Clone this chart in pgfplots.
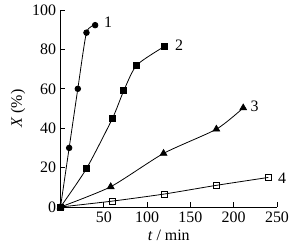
\documentclass[border=0pt]{standalone}
\usepackage{pgfplots}
\pgfplotsset{compat=1.18}
\usepackage{fontspec}
\setmainfont{Liberation Serif}
\begin{document}
\begin{tikzpicture}
\begin{axis}[
  scale only axis, width=216.5bp, height=197bp,
  xmin=0, xmax=250, ymin=0, ymax=100,
  axis x line=bottom, axis y line=left,
  axis line style={-, line width=0.8pt},
  every tick/.style={black, line width=0.8pt},
  tick align=inside, major tick length=5bp,
  xtick={50,100,150,200,250}, ytick={0,20,40,60,80,100},
  minor tick num=0,
  font=\fontsize{16}{18}\selectfont,
  /pgf/number format/assume math mode=true,
  xlabel={\textit{t} / min}, ylabel={\textit{X} (\%)},
  xlabel style={at={(axis description cs:0.5,0)}, anchor=center, yshift=-28bp},
  ylabel style={at={(axis description cs:-0.196,0.5)}, anchor=center, rotate=0},
  yticklabel style={xshift=-1bp},
  xticklabel style={yshift=-1bp},
  clip=false,
]
\addplot[black, line width=0.8pt, smooth, tension=0.4, mark=*, mark size=2.8bp] coordinates {(0,0) (10,30) (20,60) (30,88.5) (40,92.3)};
\addplot[black, line width=0.8pt, smooth, tension=0.4, mark=square*, mark size=3bp] coordinates {(0,0) (30,19.5) (60,45) (73,59) (88,72) (120,81.5)};
\addplot[black, line width=0.8pt, smooth, tension=0.4, mark=triangle*, mark size=3.8bp] coordinates {(0,0) (58,10.3) (119,27.2) (180,39.5) (211,50.3)};
\addplot[black, line width=0.8pt, smooth, tension=0.4, mark=square, mark size=3bp, mark options={fill=white}] coordinates {(0,0) (60,3) (120,6.6) (180,11) (240,15)};
\node[font=\fontsize{16}{18}\selectfont] at (axis cs:55,94) {1};
\node[font=\fontsize{16}{18}\selectfont] at (axis cs:137,82) {2};
\node[font=\fontsize{16}{18}\selectfont] at (axis cs:224,51) {3};
\node[font=\fontsize{16}{18}\selectfont] at (axis cs:256,14.5) {4};
\end{axis}
\pgfresetboundingbox
\path[use as bounding box] (-60.5bp,-40bp) rectangle (239.5bp,207bp);
\end{tikzpicture}
\end{document}
